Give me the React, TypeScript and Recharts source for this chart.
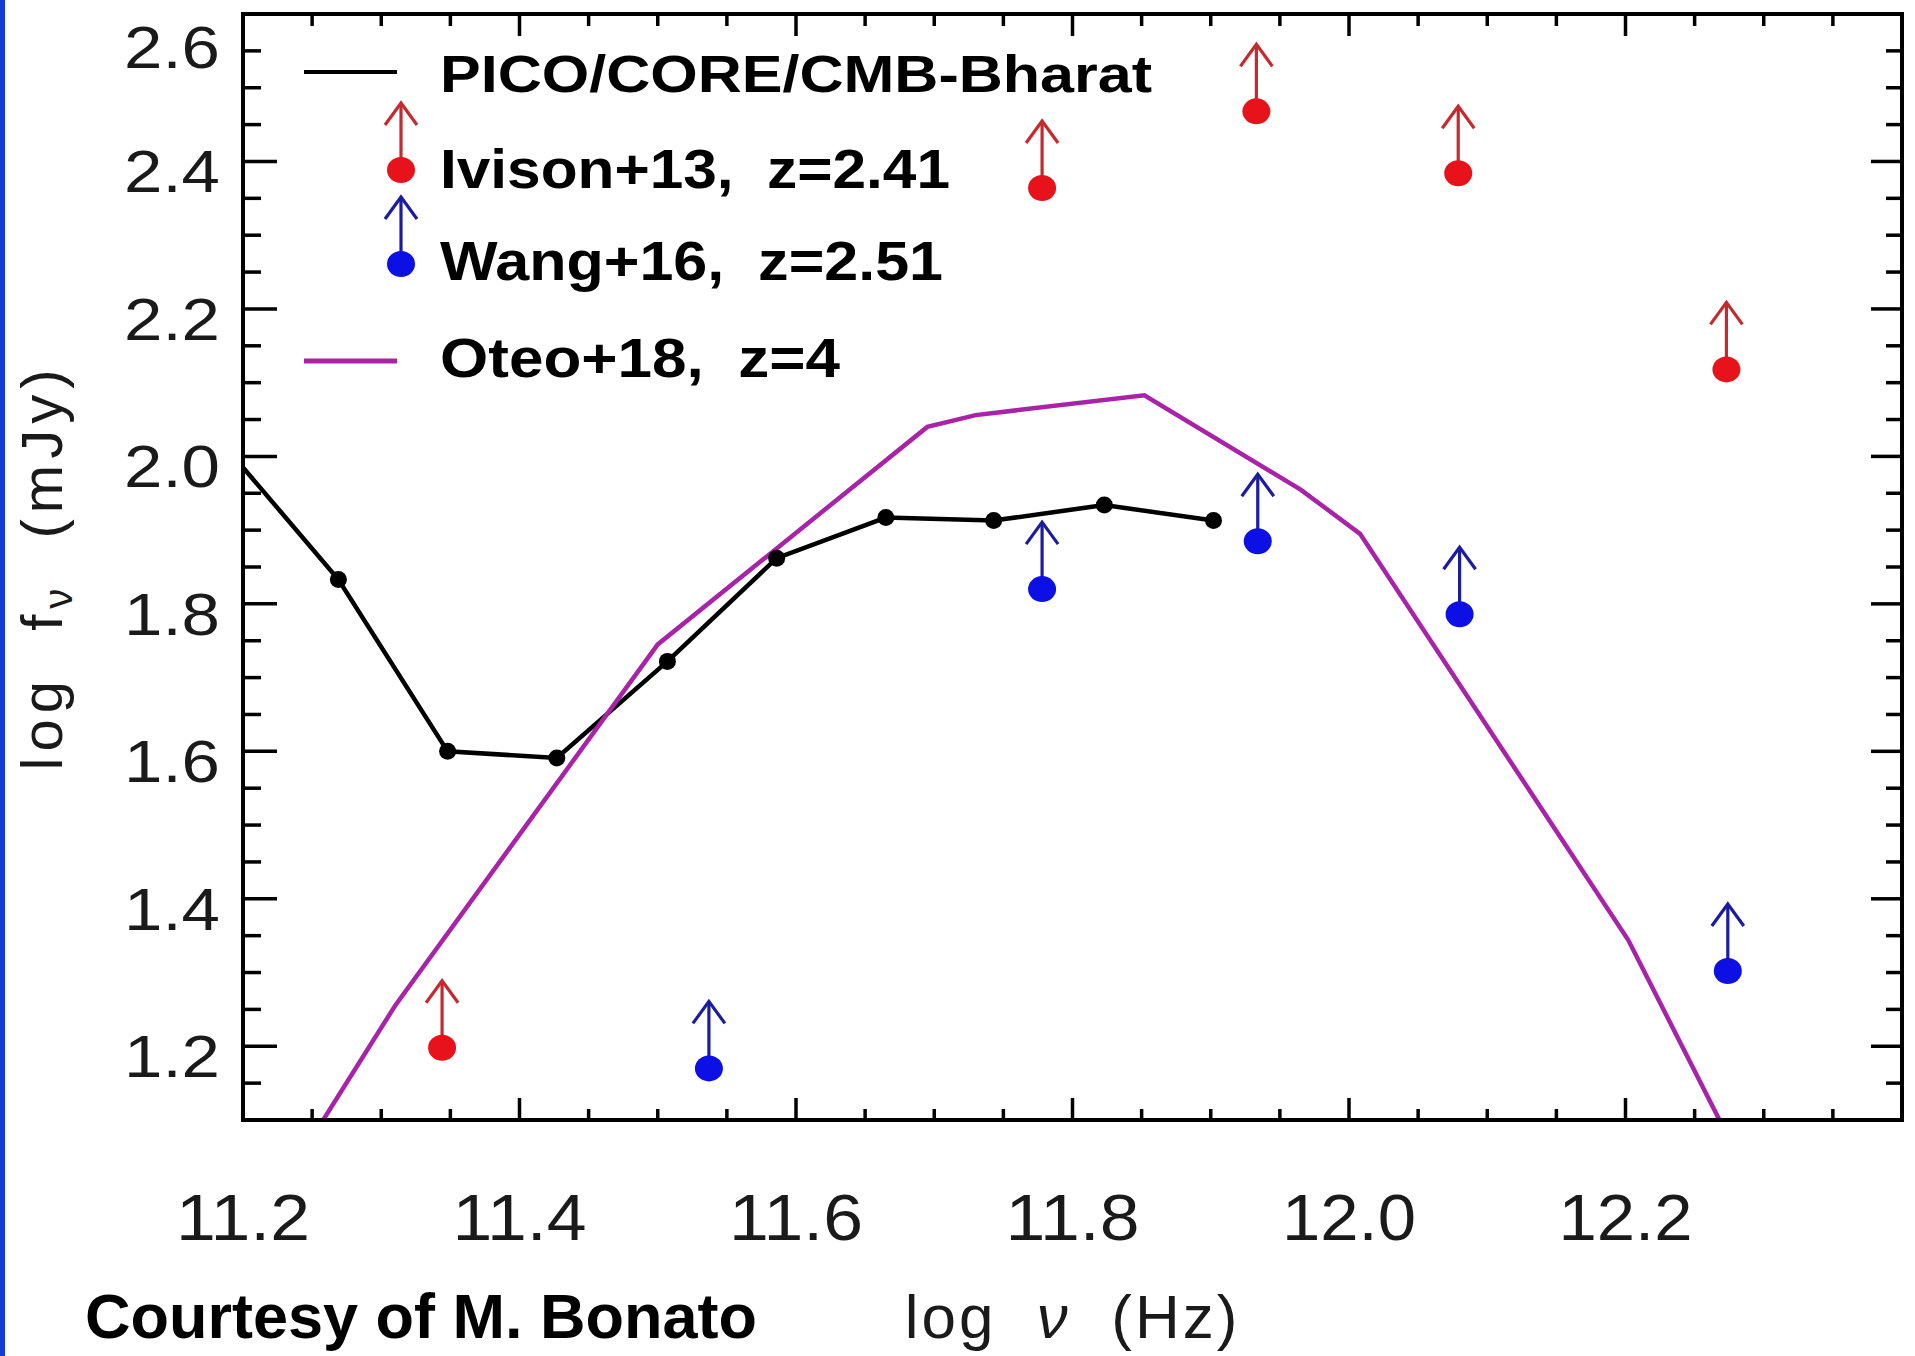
import React from "react";
import { ComposedChart, Line, Scatter, XAxis, YAxis, Legend } from "recharts";

// log nu (Hz) tick marks, every 0.05, labels every 0.2
const xTicks = [
  11.2, 11.25, 11.3, 11.35, 11.4, 11.45, 11.5, 11.55, 11.6, 11.65, 11.7, 11.75,
  11.8, 11.85, 11.9, 11.95, 12.0, 12.05, 12.1, 12.15, 12.2, 12.25, 12.3, 12.35, 12.4,
];
const xTickLabels = [11.2, 11.4, 11.6, 11.8, 12.0, 12.2];

// log f_nu (mJy)
const yTicks = [
  1.1, 1.15, 1.2, 1.25, 1.3, 1.35, 1.4, 1.45, 1.5, 1.55, 1.6, 1.65, 1.7, 1.75, 1.8,
  1.85, 1.9, 1.95, 2.0, 2.05, 2.1, 2.15, 2.2, 2.25, 2.3, 2.35, 2.4, 2.45, 2.5, 2.55, 2.6,
];
const yTickLabels = [1.2, 1.4, 1.6, 1.8, 2.0, 2.2, 2.4, 2.6];

// PICO/CORE/CMB-Bharat sensitivity
const picoNu = [11.2, 11.269, 11.348, 11.427, 11.507, 11.586, 11.665, 11.743, 11.823, 11.902];
const picoFlux = [1.985, 1.833, 1.6, 1.591, 1.722, 1.862, 1.917, 1.913, 1.934, 1.913];

// Oteo+18, z=4 SED
const oteoNu = [11.258, 11.31, 11.5, 11.695, 11.73, 11.852, 11.965, 12.008, 12.202, 12.268];
const oteoFlux = [1.1, 1.255, 1.745, 2.04, 2.056, 2.083, 1.955, 1.895, 1.344, 1.1];

// lower limits
const ivisonNu = [11.344, 11.778, 11.933, 12.079, 12.273];
const ivisonFlux = [1.198, 2.364, 2.468, 2.384, 2.118];
const wangNu = [11.537, 11.778, 11.934, 12.08, 12.274];
const wangFlux = [1.17, 1.82, 1.885, 1.786, 1.302];

const toPoints = (xs: number[], ys: number[]) => xs.map((x, i) => ({ x, y: ys[i] }));
const picoData = toPoints(picoNu, picoFlux);
const oteoData = toPoints(oteoNu, oteoFlux);
const ivisonData = toPoints(ivisonNu, ivisonFlux);
const wangData = toPoints(wangNu, wangFlux);

const MAGENTA = "#a823a8";
const RED_DOT = "#e8121a";
const RED_ARROW = "#c42a2e";
const BLUE_DOT = "#0c10e4";
const BLUE_ARROW = "#1c1ca0";
const TICK_FONT = "'Liberation Sans', Arial, sans-serif";

const inList = (list: number[], v: number) => list.some((l) => Math.abs(l - v) < 1e-6);

const BottomTick = (props: any) => {
  const { x, y, payload } = props;
  const major = inList(xTickLabels, payload.value);
  return (
    <g>
      <line x1={x} x2={x} y1={y} y2={y - (major ? 22 : 11)} stroke="#000" strokeWidth={3.5} />
      {major && (
        <text x={x} y={y + 120} textAnchor="middle" fontFamily={TICK_FONT} fontSize={64}
          fill="#1a1a1a" textLength={134} lengthAdjust="spacingAndGlyphs">
          {payload.value.toFixed(1)}
        </text>
      )}
    </g>
  );
};

const TopTick = (props: any) => {
  const { x, y, payload } = props;
  const major = inList(xTickLabels, payload.value) || Math.abs(payload.value - 12.4) < 1e-6;
  return <line x1={x} x2={x} y1={y} y2={y + (major ? 22 : 12)} stroke="#000" strokeWidth={3.5} />;
};

const LeftTick = (props: any) => {
  const { x, y, payload } = props;
  const major = inList(yTickLabels, payload.value);
  // the top label is pushed down inside the frame, as in the original plot
  const base = Math.max(y + 31, 68);
  return (
    <g>
      <line x1={x} x2={x + (major ? 34 : 18)} y1={y} y2={y} stroke="#000" strokeWidth={3.5} />
      {major && (
        <text x={x - 23} y={base} textAnchor="end" fontFamily={TICK_FONT} fontSize={60}
          fill="#1a1a1a" textLength={96} lengthAdjust="spacingAndGlyphs">
          {payload.value.toFixed(1)}
        </text>
      )}
    </g>
  );
};

const RightTick = (props: any) => {
  const { x, y, payload } = props;
  const major = inList(yTickLabels, payload.value);
  return <line x1={x} x2={x - (major ? 31 : 16)} y1={y} y2={y} stroke="#000" strokeWidth={3.5} />;
};

const picoDot = (props: any) => {
  const { cx, cy, index } = props;
  // first point is where the curve leaves the frame, no marker there
  if (index === 0) return <g key={`pd${index}`} />;
  return <circle key={`pd${index}`} cx={cx} cy={cy} r={8.5} fill="#000" />;
};

const LimitMark = ({ cx, cy, dot, arrow }: { cx: number; cy: number; dot: string; arrow: string }) => (
  <g>
    <line x1={cx} y1={cy} x2={cx} y2={cy - 66} stroke={arrow} strokeWidth={3.2} />
    <polyline
      points={`${cx - 16},${cy - 45} ${cx},${cy - 67} ${cx + 16},${cy - 45}`}
      fill="none" stroke={arrow} strokeWidth={3.2}
    />
    <ellipse cx={cx} cy={cy} rx={14} ry={13} fill={dot} />
  </g>
);

const ivisonShape = (props: any) => <LimitMark cx={props.cx} cy={props.cy} dot={RED_DOT} arrow={RED_ARROW} />;
const wangShape = (props: any) => <LimitMark cx={props.cx} cy={props.cy} dot={BLUE_DOT} arrow={BLUE_ARROW} />;

const legendFont = "'Liberation Sans', Arial, sans-serif";

const renderLegend = () => (
  <svg width={900} height={370} style={{ display: "block" }}>
    <line x1={14} x2={107} y1={42} y2={42} stroke="#000" strokeWidth={4} />
    <text x={150} y={62} fontFamily={legendFont} fontWeight="bold" fontSize={52}
      textLength={712} lengthAdjust="spacingAndGlyphs">PICO/CORE/CMB-Bharat</text>
    <LimitMark cx={111} cy={140} dot={RED_DOT} arrow={RED_ARROW} />
    <text x={150} y={158} fontFamily={legendFont} fontWeight="bold" fontSize={56}
      textLength={510} lengthAdjust="spacingAndGlyphs" style={{ whiteSpace: "pre" }}>Ivison+13,  z=2.41</text>
    <LimitMark cx={111} cy={234} dot={BLUE_DOT} arrow={BLUE_ARROW} />
    <text x={150} y={250} fontFamily={legendFont} fontWeight="bold" fontSize={56}
      textLength={503} lengthAdjust="spacingAndGlyphs" style={{ whiteSpace: "pre" }}>Wang+16,  z=2.51</text>
    <line x1={14} x2={107} y1={331} y2={331} stroke={MAGENTA} strokeWidth={5} />
    <text x={150} y={347} fontFamily={legendFont} fontWeight="bold" fontSize={56}
      textLength={400} lengthAdjust="spacingAndGlyphs" style={{ whiteSpace: "pre" }}>Oteo+18,  z=4</text>
  </svg>
);

const YTitle = (props: any) => {
  const vb = props.viewBox || {};
  const cy = vb.height ? vb.y + vb.height / 2 : 567;
  return (
    <text x={62} y={cy} transform={`rotate(-90, 62, ${cy})`} textAnchor="middle"
      fontFamily={TICK_FONT} fontSize={58} fill="#1a1a1a" letterSpacing={6} style={{ whiteSpace: "pre" }}>
      log  f<tspan fontSize={40} dy={10}>ν</tspan><tspan dy={-10}>  (mJy)</tspan>
    </text>
  );
};

const XTitle = (props: any) => {
  const vb = props.viewBox || {};
  const cx = vb.width ? vb.x + vb.width / 2 : 1072;
  return (
    <text x={cx} y={1338} textAnchor="middle" fontFamily={TICK_FONT} fontSize={62}
      fill="#1a1a1a" letterSpacing={3} style={{ whiteSpace: "pre" }}>
      log  <tspan fontStyle="italic">ν</tspan>  (Hz)
    </text>
  );
};

export default function App() {
  const frame = { stroke: "#000", strokeWidth: 4, strokeLinecap: "square" as const };
  return (
    <div style={{ position: "relative", width: 1915, height: 1356, background: "#fff", overflow: "hidden" }}>
      <style>{"body{margin:0}"}</style>
      <div style={{ position: "absolute", left: 0, top: 0, width: 5, height: 1356, background: "#1739d4" }} />
      <ComposedChart width={1915} height={1356} margin={{ top: 13, right: 12, bottom: 0, left: 0 }}>
        <XAxis dataKey="x" type="number" domain={[11.2, 12.4]} ticks={xTicks} interval={0}
          allowDataOverflow height={236} tickSize={0} tickMargin={0} axisLine={frame}
          tick={BottomTick} label={{ content: XTitle }} />
        <XAxis xAxisId="top" orientation="top" dataKey="x" type="number" domain={[11.2, 12.4]}
          ticks={xTicks} interval={0} allowDataOverflow height={1} tickSize={0} tickMargin={0}
          axisLine={frame} tick={TopTick} />
        <YAxis type="number" domain={[1.1, 2.6]} ticks={yTicks} interval={0} allowDataOverflow
          width={243} tickSize={0} tickMargin={0} axisLine={frame} tick={LeftTick}
          label={{ content: YTitle }} />
        <YAxis yAxisId="right" orientation="right" type="number" domain={[1.1, 2.6]} ticks={yTicks}
          interval={0} allowDataOverflow width={1} tickSize={0} tickMargin={0} axisLine={frame}
          tick={RightTick} />
        <Legend content={renderLegend} layout="horizontal" verticalAlign="middle" align="center"
          wrapperStyle={{ left: 290, top: 30, width: 900, height: 370 }} />
        <Line data={picoData} dataKey="y" type="linear" stroke="#000" strokeWidth={4.5}
          dot={picoDot} activeDot={false} isAnimationActive={false} name="PICO/CORE/CMB-Bharat" />
        <Line data={oteoData} dataKey="y" type="linear" stroke={MAGENTA} strokeWidth={4.5}
          dot={false} activeDot={false} isAnimationActive={false} name="Oteo+18, z=4" />
        <Scatter data={ivisonData} dataKey="y" shape={ivisonShape} isAnimationActive={false} name="Ivison+13, z=2.41" />
        <Scatter data={wangData} dataKey="y" shape={wangShape} isAnimationActive={false} name="Wang+16, z=2.51" />
      </ComposedChart>
      <svg width={900} height={80} style={{ position: "absolute", left: 0, top: 1276 }}>
        <text x={85} y={62} fontFamily="'Liberation Sans', Arial, sans-serif" fontWeight="bold"
          fontSize={63} fill="#000">Courtesy of M. Bonato</text>
      </svg>
    </div>
  );
}
